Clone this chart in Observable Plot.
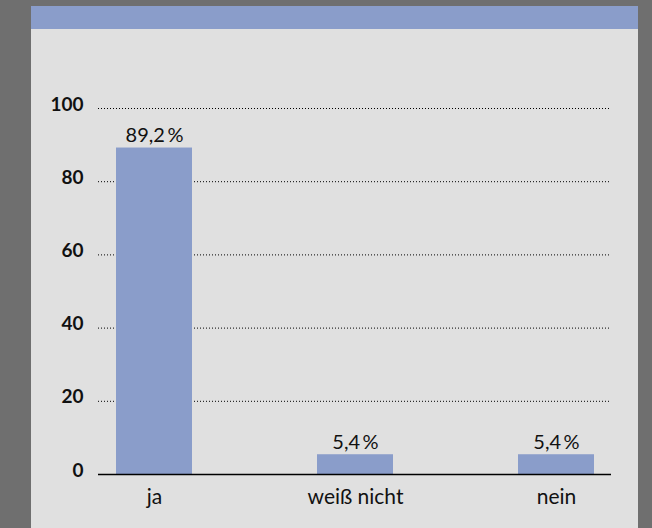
<!DOCTYPE html>
<html><head><meta charset="utf-8">
<script src="https://cdn.jsdelivr.net/npm/d3@7"></script>
<script src="https://cdn.jsdelivr.net/npm/@observablehq/plot@0.6"></script>
<style>
html,body{margin:0;padding:0;background:#6f6f6f;width:652px;height:528px;overflow:hidden;font-family:Lato,"Open Sans",sans-serif;}
#panel{position:absolute;left:31px;top:6px;width:607px;height:522px;background:#e0e0e0;}
#head{position:absolute;left:0;top:0;width:607px;height:23px;background:#8a9dca;}
#chart{position:absolute;left:0;top:0;}
</style></head><body>
<div id="panel"><div id="head"></div></div>
<div id="chart"></div>
<script>
const categories = ["ja", "weiß nicht", "nein"];
const values = [89.2, 5.4, 5.4];
const yTicks = [0, 20, 40, 60, 80, 100];

const data = categories.map((c, i) => ({cat: c, value: values[i], label: values[i].toFixed(1).replace(".", ",") + "\u2009%"}));

const plot = Plot.plot({
  width: 652,
  height: 528,
  marginLeft: 98,
  marginRight: 41,
  marginTop: 108,
  marginBottom: 54,
  style: {background: "transparent", fontFamily: "Lato, 'Open Sans', sans-serif", color: "#000"},
  x: {domain: categories, paddingInner: 0.623, paddingOuter: 0.085, label: null},
  y: {domain: [0, 100], label: null},
  marks: [
    Plot.gridY(yTicks.filter(d => d > 0), {stroke: "#000", strokeOpacity: 1, strokeWidth: 1, strokeDasharray: "1,2"}),
    Plot.barY(data, {x: "cat", y: "value", fill: "#8a9dca"}),
    Plot.ruleY([0], {stroke: "#000", strokeWidth: 1.5}),
    Plot.text(data, {x: "cat", y: "value", text: "label", lineAnchor: "bottom", dy: -6, fontSize: 20, fill: "#111"}),
    Plot.axisY(yTicks, {tickSize: 0, tickPadding: 15, dy: -4, fontSize: 19, fontWeight: "bold", fill: "#111"}),
    Plot.axisX({tickSize: 0, tickPadding: 15, fontSize: 21, fill: "#111"})
  ]
});
document.getElementById("chart").appendChild(plot);
</script>
</body></html>
